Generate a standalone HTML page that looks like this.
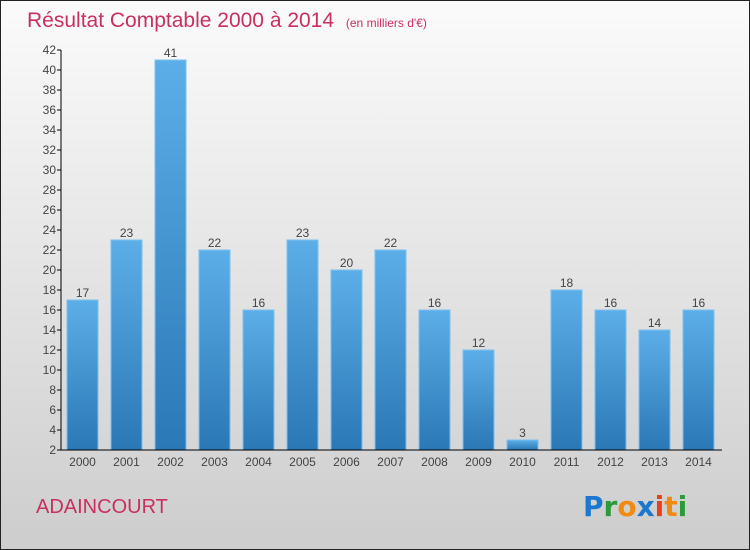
<!DOCTYPE html>
<html><head><meta charset="utf-8"><style>
body{margin:0}
#c{width:750px;height:550px;position:relative;overflow:hidden;font-family:"Liberation Sans",sans-serif}
</style></head><body>
<div id="c">
<svg id="s" width="750" height="550" xmlns="http://www.w3.org/2000/svg">
<defs>
<linearGradient id="bg" x1="0" y1="0" x2="0" y2="1"><stop offset="0" stop-color="#fbfbfb"/><stop offset="1" stop-color="#cdcdcd"/></linearGradient>
<linearGradient id="bar" x1="0" y1="0" x2="0" y2="1"><stop offset="0" stop-color="#5caee8"/><stop offset="1" stop-color="#2a78b6"/></linearGradient>
</defs>
<rect x="0.5" y="0.5" width="749" height="549" fill="url(#bg)" stroke="#222"/>
<text x="27" y="27" font-size="21" fill="#c8305f">Résultat Comptable 2000 à 2014 <tspan font-size="12" dx="6">(en milliers d'€)</tspan></text>
<text x="36" y="513" font-size="20" fill="#c8305f">ADAINCOURT</text>
<g font-size="28" font-family="'DejaVu Sans',sans-serif" font-weight="bold">
<text x="583" y="516"><tspan fill="#1a78d0">P</tspan><tspan fill="#2a9a3a">r</tspan><tspan fill="#f08a10">o</tspan><tspan fill="#1a78d0">x</tspan><tspan fill="#e8401a">i</tspan><tspan fill="#f08a10">t</tspan><tspan fill="#2a9a3a">i</tspan></text>
</g>
<g id="plot"></g>
</svg>
</div>
<script>
const categories=["2000","2001","2002","2003","2004","2005","2006","2007","2008","2009","2010","2011","2012","2013","2014"];
const values=[17,23,41,22,16,23,20,22,16,12,3,18,16,14,16];
const yTicks=[2,4,6,8,10,12,14,16,18,20,22,24,26,28,30,32,34,36,38,40,42];
const NS="http://www.w3.org/2000/svg";
const g=document.getElementById('plot');
const y=v=>450-(v-2)*10;
const x=i=>82.5+i*44;
function el(t,a){const e=document.createElementNS(NS,t);for(const k in a)e.setAttribute(k,a[k]);g.appendChild(e);return e;}
values.forEach((v,i)=>{
 const r=el('rect',{x:x(i)-15.5,y:y(v),width:31,height:450-y(v),fill:'url(#bar)',stroke:'#7cc0ee','stroke-width':1});
 
 
 const t=el('text',{x:x(i),y:y(v)-3,'font-size':12,fill:'#444','text-anchor':'middle'});
 t.textContent=v;
 
 
 const c=el('text',{x:x(i),y:466,'font-size':12,fill:'#444','text-anchor':'middle'});
 c.textContent=categories[i];
 
 
});
yTicks.forEach(v=>{
 const l=el('line',{x1:57,x2:61,y1:y(v),y2:y(v),stroke:'#000'});
 
 
 const t=el('text',{x:56,y:y(v)+4,'font-size':12,fill:'#444','text-anchor':'end'});
 t.textContent=v;
 
 
});
const ya=el('line',{x1:61,x2:61,y1:50,y2:450,stroke:'#000'});


const xa=el('line',{x1:61,x2:722,y1:450,y2:450,stroke:'#000'});


</script>
</body></html>
